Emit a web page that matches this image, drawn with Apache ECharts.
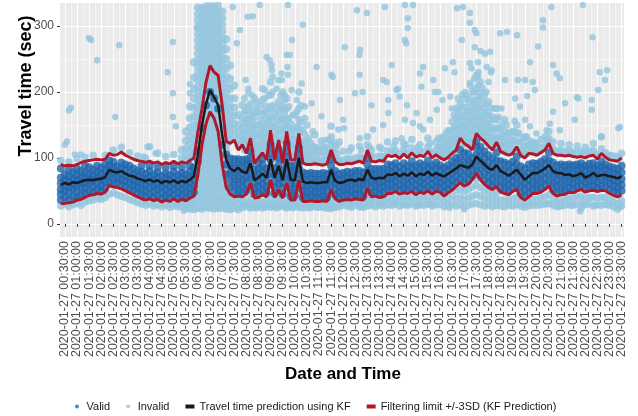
<!DOCTYPE html>
<html><head><meta charset="utf-8">
<script src="https://cdn.jsdelivr.net/npm/echarts@6/dist/echarts.min.js"></script>
<style>html,body{margin:0;padding:0;background:#fff}#c{width:638px;height:416px}</style>
</head><body><div id="c"></div>
<script>
const xTicks = ["00:30","01:00","01:30","02:00","02:30","03:00","03:30","04:00","04:30","05:00","05:30","06:00","06:30","07:00","07:30","08:00","08:30","09:00","09:30","10:00","10:30","11:00","11:30","12:00","12:30","13:00","13:30","14:00","14:30","15:00","15:30","16:00","16:30","17:00","17:30","18:00","18:30","19:00","19:30","20:00","20:30","21:00","21:30","22:00","22:30","23:00","23:30"];
const yTicks = [0, 100, 200, 300];

const lineTimes = ["00:20","00:30","00:40","00:50",
"01:00","01:10","01:20","01:30","01:40","01:50","02:00","02:10","02:20","02:30","02:40","02:50",
"03:00","03:10","03:20","03:30","03:40","03:50","04:00","04:10","04:20","04:30","04:40","04:50",
"05:00","05:10","05:20","05:30","05:40","05:50","06:00","06:10","06:20","06:30","06:40","06:50",
"07:00","07:10","07:20","07:30","07:40","07:50","08:00","08:10","08:20","08:30","08:40","08:50",
"09:00","09:10","09:20","09:30","09:40","09:50","10:00","10:10","10:20","10:30","10:40","10:50",
"11:00","11:10","11:20","11:30","11:40","11:50","12:00","12:10","12:20","12:30","12:40","12:50",
"13:00","13:10","13:20","13:30","13:40","13:50","14:00","14:10","14:20","14:30","14:40","14:50",
"15:00","15:10","15:20","15:30","15:40","15:50","16:00","16:10","16:20","16:30","16:40","16:50",
"17:00","17:10","17:20","17:30","17:40","17:50","18:00","18:10","18:20","18:30","18:40","18:50",
"19:00","19:10","19:20","19:30","19:40","19:50","20:00","20:10","20:20","20:30","20:40","20:50",
"21:00","21:10","21:20","21:30","21:40","21:50","22:00","22:10","22:20","22:30","22:40","22:50",
"23:00","23:10","23:20","23:30"];

const kfPrediction = [59,62,60,63,
62,64,66,67,66,68, 68,71,82,79,78,80, 76,73,72,69,67,65, 67,64,66,62,65,63, 66,62,65,63,67,72,
105,150,182,203,192,180, 135,97,84,80,85,79, 77,92,66,70,76,70, 98,70,88,66,98,67,
66,100,64,62,63,62, 62,63,63,82,65,62, 63,66,67,65,68,66, 82,70,68,70,69,75,
74,77,72,76,73,78, 72,76,74,79,73,77, 74,72,76,80,84,89, 87,85,90,102,96,90,
84,82,89,80,77,73, 77,82,75,67,72,77, 77,80,84,89,80,77, 77,74,75,72,74,77,
70,73,77,72,74,74, 72,71,69,72];

const upperLimit = [90,88,89,88,
90,93,95,96,97,98, 97,98,107,104,105,109, 104,101,98,96,95,93, 95,92,94,90,93,91, 95,91,94,92,96,100,
140,175,215,240,230,225, 180,125,122,127,112,120, 107,130,92,100,108,97, 142,97,127,92,140,97,
97,137,92,90,90,91, 90,89,91,112,94,90, 90,92,91,93,95,92, 112,95,94,96,95,104,
102,104,99,106,100,108, 101,104,102,110,100,105, 100,97,101,107,112,130, 122,118,112,137,130,125,
118,112,124,110,107,104, 107,117,104,100,107,106, 104,108,112,122,107,104, 104,103,104,102,101,102,
100,103,104,98,107,101, 97,96,95,100];

const lowerLimit = [31,31,32,33,
36,37,40,43,44,46, 45,48,58,56,55,53, 50,47,44,41,38,36, 38,35,37,33,36,34, 38,34,37,35,39,42,
75,120,152,170,160,140, 90,55,45,41,42,41, 45,62,39,40,44,41, 67,40,52,39,62,36,
36,67,34,34,35,34, 34,35,34,52,38,34, 36,37,36,38,37,36, 54,41,42,40,41,46,
46,49,45,47,46,49, 44,48,46,50,45,49, 48,42,47,51,57,62, 57,60,67,77,67,60,
55,52,57,48,46,44, 49,52,40,36,41,46, 46,48,52,57,46,42, 44,45,48,47,50,52,
48,50,51,49,51,50, 46,43,41,44];

const validObs = [
["00:20",36,45,52,61,70,84],["00:30",40,50,58,66,75],["00:40",37,48,56,64,72,82],["00:50",42,53,60,68,78],
["01:00",40,49,58,66,74,84],["01:10",44,55,63,71,80],["01:20",46,54,62,70,78,88],["01:30",50,60,68,76,86],["01:40",48,57,66,73,82],["01:50",52,61,70,79,88],
["02:00",50,58,67,76,85],["02:10",54,63,72,80,90],["02:20",62,71,80,88,96],["02:30",60,70,78,86,94],["02:40",62,70,79,87],["02:50",58,67,76,84,93],
["03:00",56,65,73,82,90],["03:10",52,62,70,78,88],["03:20",50,58,66,75,84],["03:30",46,55,64,72,80],["03:40",44,53,62,70,79,88],["03:50",42,51,60,68,76],
["04:00",45,54,63,71,80,88],["04:10",40,49,58,66,75],["04:20",43,52,60,69,78,86],["04:30",38,47,56,64,73],["04:40",42,51,60,68,76,85],["04:50",40,48,57,66,74],
["05:00",44,53,61,70,79,87],["05:10",39,48,57,65,74],["05:20",42,51,60,69,77,86],["05:30",40,49,58,66,75],["05:40",45,54,62,71,80,88],["05:50",48,57,66,75,85],
["06:00",95,110],["06:10",145],["06:20",180],["06:30",200],["06:40",190],["06:50",175],
["07:00",120],["07:10",75,90,105],["07:20",55,66,77,88,99],["07:30",48,58,68,78,88,98],["07:40",48,58,68,78,88,98],["07:50",47,57,67,77,87,97],
["08:00",51,61,70,80,90,98],["08:10",70,80,90,100,110],["08:20",45,54,63,72,82],["08:30",46,56,65,74,83,92],["08:40",50,60,70,80,90,99],["08:50",47,56,65,74,84],
["09:00",75,86,97,108,120],["09:10",46,56,65,74,84],["09:20",60,70,80,90,100,112],["09:30",45,54,63,72,82],["09:40",70,80,90,100,110,122],["09:50",42,52,61,70,80,88],
["10:00",43,52,62,71,80,88],["10:10",75,85,95,105,115],["10:20",40,50,59,68,78],["10:30",40,49,58,67,76],["10:40",41,50,59,68,77],["10:50",40,49,58,67,76],
["11:00",40,49,58,67,76],["11:10",41,50,59,68,77],["11:20",40,49,58,67,76],["11:30",58,68,78,88,98],["11:40",44,53,62,71,80],["11:50",40,49,58,67,76],
["12:00",42,51,60,68,77],["12:10",43,52,61,70,79],["12:20",42,51,60,69,78],["12:30",44,53,62,71,80],["12:40",43,52,61,70,80],["12:50",42,51,60,69,78],
["13:00",60,70,80,90,100],["13:10",47,56,65,74,83],["13:20",48,57,66,75,83],["13:30",46,55,64,73,83],["13:40",47,56,65,74,83],["13:50",52,61,70,80,90],
["14:00",52,61,70,79,89],["14:10",55,64,73,82,92],["14:20",51,60,69,78,87],["14:30",53,62,72,82,92],["14:40",52,61,70,79,88],["14:50",55,65,75,85,95],
["15:00",50,59,68,78,88],["15:10",54,63,72,82,92],["15:20",52,61,70,80,89],["15:30",56,66,76,86,96],["15:40",51,60,69,78,88],["15:50",55,64,74,84,93],
["16:00",54,63,72,81,89],["16:10",48,57,66,75,85],["16:20",53,62,71,80,89],["16:30",57,66,76,86,95],["16:40",63,72,82,92,100],["16:50",68,79,90,101,112],
["17:00",63,74,85,96,108],["17:10",66,76,86,96,106],["17:20",73,82,91,100],["17:30",83,94,105,116,125],["17:40",73,84,95,106,117],["17:50",66,77,88,99,110],
["18:00",61,71,82,93,104],["18:10",58,68,78,88,99],["18:20",63,74,85,96,108],["18:30",54,64,74,84,95],["18:40",52,62,72,82,93],["18:50",50,60,70,80,90],
["19:00",55,65,75,85,94],["19:10",58,69,80,91,102],["19:20",46,56,66,76,87],["19:30",42,52,62,72,84],["19:40",47,57,67,78,90],["19:50",52,62,72,82,92],
["20:00",52,62,72,82,91],["20:10",54,64,74,84,94],["20:20",58,68,78,88,98],["20:30",63,74,85,96,108],["20:40",52,62,72,82,93],["20:50",48,58,68,78,89],
["21:00",50,60,70,80,90],["21:10",51,61,71,80,89],["21:20",54,63,72,81,90],["21:30",53,62,71,80,89],["21:40",56,65,74,83,90],["21:50",58,67,76,85,92],
["22:00",54,63,72,81,88],["22:10",56,65,74,83,91],["22:20",57,66,75,84,92],["22:30",55,64,73,82,88],["22:40",57,67,77,87,95],["22:50",56,65,74,83,90],
["23:00",52,61,70,79,87],["23:10",49,58,67,76,85],["23:20",47,56,65,74,83],["23:30",50,59,68,78,88]
];

const invalidPeak = [
["05:20",26,33,100,112],["05:30",24,31,102,114,126,140],["05:40",23,30,37,100,110,121,133,146,160,178],
["05:50",22,30,37,106,116,127,138,150,163,176,190,205,222,245],
["06:00",24,33,42,51,60,69,78,88,98,108,118,128,138,148,158,168,178,188,198,208,218,228,238,248,258,268,278,288,298,308,318,328],
["06:10",23,32,41,50,59,68,77,87,97,107,117,127,137,147,157,167,177,187,197,207,217,227,237,247,257,267,277,287,297,307,317,327],
["06:20",25,34,43,52,61,70,80,90,100,110,120,130,140,150,160,170,180,190,200,210,220,230,240,250,260,270,280,290,300,310,320,330],
["06:30",24,33,42,51,60,70,80,90,100,110,120,130,140,150,160,170,180,190,200,210,220,230,240,250,260,270,280,290,300,310,320,330],
["06:40",23,32,41,50,60,70,80,90,100,110,120,130,140,150,160,170,180,190,200,210,220,230,240,250,260,270,280,290,300,310,320,330],
["06:50",24,33,42,52,62,72,82,92,102,112,122,132,142,152,162,172,182,192,202,212,222,232,242,252,262,272,282,292,302,312,322,331],
["07:00",24,33,42,52,62,72,82,92,102,112,122,132,142,152,162,172,182,192,202,212,222,232,242,252,262,272,282,292,302,312,322],
["07:10",23,32,41,50,60,70,80,90,100,110,120,130,140,150,160,170,180,190,200,212,224,236,250,265,280],
["07:20",22,31,40,128,138,148,158,168,178,190,205,220,240],["07:30",24,33,132,142,152,164,176,190,210],
["07:40",22,30,38,118,128,138,150,165],["07:50",25,33,124,134,146,160,180]
];

const invalidFringe = [
["00:20",27,96],["00:30",30],["00:40",26,94],["00:50",29],["01:00",31,99],["01:10",28],["01:20",33,101],["01:30",35],["01:40",36,104],["01:50",38],
["02:00",37],["02:10",40,104],["02:20",45],["02:30",47,112],["02:40",44],["02:50",42,116],["03:00",40],["03:10",37,108],["03:20",35],["03:30",32,103],
["03:40",30],["03:50",28,100],["04:00",30,117],["04:10",27],["04:20",29,107],["04:30",26],["04:40",28,102],["04:50",25,30],["05:00",27,32,105],["05:10",26,31],
["08:00",26,35,114,125,140,158,172],["08:10",24,33,44,54,138,150,165,182],["08:20",25,32,100,112,128,146,162,190],["08:30",27,34,108,120,136,150,170],
["08:40",24,33,120,132,148,166,188,205],["08:50",26,34,104,116,130,145,160,178],["09:00",25,36,46,58,150,162,176,195,215],["09:10",27,34,104,118,132,148,168],
["09:20",26,35,44,136,150,166,185],["09:30",28,34,100,114,128,142,160,178,200],["09:40",24,34,46,54,148,160,175,190],["09:50",26,32,104,118,134,152],
["10:00",27,33,104,120,140,165],["10:10",25,35,46,58,145,158,175,200],["10:20",24,30,98,112,126,142],["10:30",26,31,97,110,125,150],
["10:40",25,31,96,108,122],["10:50",27,31,97,112,135],["11:00",25,31,96,110],["11:10",26,32,96,118],["11:20",24,31,97,108],["11:30",27,36,46,120,132,148],
["11:40",25,33,100,114],["11:50",26,31,96,124],["12:00",28,33,97,110],["12:10",27,33,99],["12:20",25,32,98,115],["12:30",28,34,100],["12:40",26,33,102,118],["12:50",25,32,99],
["13:00",27,37,47,120,132],["13:10",28,36,102,112],["13:20",26,37,101],["13:30",28,35,103,116],["13:40",27,36,102],["13:50",29,38,111,124],
["14:00",28,38,109],["14:10",30,40,111,126],["14:20",27,37,106],["14:30",29,39,113,122],["14:40",28,38,107],["14:50",30,40,115,128],
["15:00",27,36,108],["15:10",29,39,111,120],["15:20",28,38,109],["15:30",30,41,117,130],["15:40",27,37,107],["15:50",29,40,112,124],
["16:00",29,40,107,118],["16:10",26,34,104,116,130],["16:20",28,38,108,120,136],["16:30",30,42,114,126,140,155],["16:40",27,38,50,119,130,145,160,175],
["16:50",29,40,52,137,150,165,182],["17:00",26,37,49,129,142,156,170,190],["17:10",28,39,52,125,138,152,168,185],["17:20",30,42,56,119,132,146,160,178,200],
["17:30",31,44,58,68,144,158,172,188,205,225],["17:40",29,42,55,137,150,164,180,198,215],["17:50",27,38,50,132,145,160,175,195],
["18:00",28,38,48,125,138,152,168,185],["18:10",26,36,45,119,132,146,162],["18:20",28,38,48,131,144,158,175],["18:30",27,36,117,130,144],
["18:40",26,36,114,126,140,158],["18:50",28,36,111,124,138],["19:00",27,38,114,126,140],["19:10",29,40,124,136,150],["19:20",27,33,111,124],
["19:30",25,30,107,118,132],["19:40",27,34,114,126],["19:50",28,37,113,124],["20:00",28,37,111,122],["20:10",29,39,115,128],["20:20",30,41,119,132],
["20:30",31,44,129,140],["20:40",28,37,114,124],["20:50",26,34,111],["21:00",27,35,111,122],["21:10",28,37,110],["21:20",29,39,111,120],["21:30",28,38,109],
["21:40",30,41,108,118],["21:50",24,31,42,109],["22:00",29,39,107,116],["22:10",30,40,110],["22:20",27,40,111,122],["22:30",29,39,105],["22:40",28,40,114,132],
["22:50",30,40,108],["23:00",28,37,104],["23:10",26,34,103],["23:20",22,31,102],["23:30",27,35,107]
];

const invalidCloud = [
["07:55",28,112,128,140,152,170,190],["08:05",28,110,122,134,148,160,178,198],["08:15",26,106,118,130,142,156,172],["08:25",24,98,110,122,136,150,168,185],
["08:35",27,104,116,128,142,158,180],["08:45",25,112,124,138,152,170,190],["08:55",28,100,112,124,138,155,172,195],["09:05",26,120,132,146,160,180,200],
["09:15",24,100,112,126,140,158,176],["09:25",27,114,128,142,158,175,195],["09:35",25,98,110,124,138,152,170,188],["09:45",28,116,130,144,160,178],
["09:55",24,100,114,128,144,165],["10:05",27,102,116,130,148,170],["10:15",25,108,122,138,155,180],["10:25",26,96,106,120,136,160],
["10:35",24,96,104,116,130],["10:45",26,96,106,118,140],["10:55",25,96,104,116],["11:05",26,96,108,126],["11:15",24,96,104,116],
["11:25",26,98,112,128],["11:35",25,100,110,124],["11:45",27,96,106,120],["12:15",27,98,110],["12:45",26,100,112],["13:05",29,104,116],["13:35",28,102,114],
["14:05",30,106,118],["14:35",29,108,120],["15:05",28,104,116],["15:35",30,110,122],
["15:55",104,116,130],["16:05",104,114,126],["16:15",102,112,124,138],["16:25",104,116,128,142],["16:35",110,122,134,148,165],
["16:45",116,128,142,156,172,190],["16:55",122,134,148,162,178,196],["17:05",120,132,146,160,176,195],["17:15",116,128,142,156,172,190,210],
["17:25",126,138,152,166,182,200,220],["17:35",136,148,162,176,192,210,230],["17:45",130,142,156,170,188,206],["17:55",124,136,150,165,182,200],
["18:05",118,130,144,158,176],["18:15",116,128,142,158,175],["18:25",120,132,146,162],["18:35",110,122,136,152],["18:45",108,120,134,150],
["18:55",108,120,134],["19:05",114,126,140,156],["19:15",112,124,138],["19:25",104,116,130],["19:35",106,118,132],["19:45",110,122],["19:55",108,120],
["20:25",30,116,128],["20:55",27,108],["21:25",28,108],["21:55",29,106],["22:25",28,106],["22:55",29,104],["23:25",26,100]
];

const invalidOutliers = [
["00:30",120],["00:35",125],["00:40",172],["00:45",176],["00:55",105],["01:10",105],["01:30",282],["01:35",279],["01:50",248],["02:35",162],["02:45",271],
["03:45",102],["03:55",117],["04:15",107],["04:45",230],["04:58",276],["04:58",198],["04:58",162],["05:05",148],["05:40",212],["05:40",198],["05:57",297],
["07:26",329],["07:36",274],["07:44",294],["08:03",314],["08:16",315],["08:33",332],["07:58",218],["08:05",205],["08:15",195],["08:25",176],["08:46",203],
["08:50",253],["08:58",248],["09:02",241],["09:03",233],["09:05",223],["09:15",205],["09:19",218],["09:27",228],["09:28",218],["09:35",195],["09:40",256],
["09:42",238],["09:43",226],["09:48",256],["09:52",203],["09:53",279],["09:43",332],["10:05",188],["10:17",213],["10:20",302],["10:25",178],["10:42",183],
["10:54",238],["11:06",163],["11:15",127],["11:31",226],["11:34",223],["11:48",143],["11:52",188],["12:00",158],["12:02",145],["12:04",268],["12:29",198],
["12:34",324],["12:40",256],["12:41",226],["12:42",264],["12:41",130],["12:48",200],["12:59",320],["13:10",180],["13:14",143],["13:39",218],["13:39",150],
["13:43",329],["13:48",215],["13:52",188],["13:52",168],["14:00",241],["14:12",203],["14:16",205],["14:20",193],["14:25",130],["14:33",332],["14:33",279],
["14:33",158],["14:36",274],["14:38",180],["14:40",312],["14:40",297],["14:53",332],["14:53",153],["15:02",168],["15:10",228],["15:10",148],["15:14",208],
["15:18",143],["15:18",238],["15:35",158],["15:43",218],["15:47",200],["15:52",173],["15:56",200],["16:04",132],["16:06",188],["16:12",236],["16:20",142],
["16:25",193],["16:29",175],["16:32",245],["16:36",230],["16:42",327],["16:53",147],["16:54",279],["16:57",329],["17:02",200],["17:14",320],["17:14",305],
["17:14",244],["17:14",214],["17:18",236],["17:26",294],["17:26",268],["17:30",289],["17:34",245],["17:35",223],["17:40",262],["17:51",258],["17:56",238],
["18:04",261],["18:06",230],["18:08",233],["18:00",215],["18:16",158],["18:29",289],["18:32",175],["18:41",218],["18:46",291],["19:06",190],["19:11",286],
["19:13",218],["19:18",178],["19:31",218],["19:31",158],["19:36",194],["19:43",148],["19:43",245],["19:50",215],["19:55",203],["19:59",137],["20:03",269],
["20:15",309],["20:15",298],["20:24",142],["20:32",152],["20:36",329],["20:40",241],["20:40",170],["20:49",228],["20:57",221],["20:57",142],["21:10",183],
["21:34",158],["21:39",192],["21:43",190],["21:47",19],["21:54",332],["22:16",188],["22:16",173],["22:18",283],["22:32",203],["22:36",230],["22:40",132],
["22:49",218],["22:54",233],["23:22",145],["23:26",147],["16:24",24],["17:00",22],["11:30",22],["05:25",20]
];

const toH = s => { const p = s.split(':'); return +p[0] + (+p[1]) / 60; };
const rowsToPoints = rows => { const out = []; rows.forEach(r => { const t = toH(r[0]); for (let i = 1; i < r.length; i++) out.push([t, r[i]]); }); return out; };
const lineData = arr => lineTimes.map((t, i) => [toH(t), arr[i]]);

const majorX = xTicks.map(toH);
const halfHourX = majorX.filter((v, i) => i % 2 === 0);
const fullHourX = majorX.filter((v, i) => i % 2 === 1);
const minorX = []; for (let i = 0; i < majorX.length - 1; i++) minorX.push((majorX[i] + majorX[i + 1]) / 2);
const minorY = []; for (let i = 0; i < yTicks.length - 1; i++) minorY.push((yTicks[i] + yTicks[i + 1]) / 2);

const FONT = "'Liberation Sans', Arial, sans-serif";
const C_VALID = '#2166AC', C_INVALID = '#92C5DE', C_KF = '#1A1A1A', C_LIM = '#B2182B';
const KF_NAME = 'Travel time prediction using KF', LIM_NAME = 'Filtering limit +/-3SD (KF Prediction)';
const xMin = 0.3, xMax = 23.6, yMin = -20, yMax = 335;

const fmtTime = v => { const H = Math.floor(v + 1e-6), M = Math.round((v - H) * 60); return '2020-01-27 ' + String(H).padStart(2, '0') + ':' + String(M).padStart(2, '0') + ':00'; };
const labelAxis = vals => ({
  type: 'value', min: xMin, max: xMax, position: 'bottom',
  axisLine: { show: false }, axisTick: { show: false }, splitLine: { show: false },
  axisLabel: { customValues: vals, rotate: 90, margin: 4, fontSize: 12.5, color: '#4D4D4D', fontFamily: FONT,
    showMinLabel: true, showMaxLabel: true, hideOverlap: false, formatter: fmtTime }
});

const chart = echarts.init(document.getElementById('c'), null, { renderer: 'canvas' });
chart.setOption({
  animation: false,
  backgroundColor: '#ffffff',
  grid: { left: 60, right: 14, top: 3, bottom: 179, show: true, backgroundColor: '#EBEBEB', borderWidth: 0 },
  xAxis: [{
    type: 'value', min: xMin, max: xMax, position: 'bottom',
    axisLine: { show: false },
    axisTick: { show: true, customValues: majorX, length: 3, lineStyle: { color: '#333333', width: 1 } },
    axisLabel: { show: false },
    splitLine: { show: true, lineStyle: { color: '#FFFFFF', width: 1 } }
  }, {
    type: 'value', min: xMin, max: xMax, position: 'bottom',
    axisLine: { show: false }, axisLabel: { show: false },
    axisTick: { show: false, customValues: minorX },
    splitLine: { show: true, lineStyle: { color: '#FFFFFF', width: 0.5 } }
  }, labelAxis(halfHourX), labelAxis(fullHourX)],
  yAxis: [{
    type: 'value', min: yMin, max: yMax,
    axisLine: { show: false },
    axisTick: { show: true, customValues: yTicks, length: 3, lineStyle: { color: '#333333', width: 1 } },
    axisLabel: { customValues: yTicks, margin: 6, fontSize: 12, color: '#4D4D4D', fontFamily: FONT, showMinLabel: true, showMaxLabel: true },
    splitLine: { show: true, lineStyle: { color: '#FFFFFF', width: 1 } }
  }, {
    type: 'value', min: yMin, max: yMax, position: 'left',
    axisLine: { show: false }, axisLabel: { show: false },
    axisTick: { show: false, customValues: minorY },
    splitLine: { show: true, lineStyle: { color: '#FFFFFF', width: 0.5 } }
  }],
  legend: {
    left: 70, top: 396, itemWidth: 9, itemHeight: 4, itemGap: 16,
    textStyle: { fontSize: 11, color: '#1A1A1A', fontFamily: FONT },
    data: [
      { name: 'Valid', icon: 'circle' },
      { name: 'Invalid', icon: 'circle' },
      { name: KF_NAME, icon: 'rect' },
      { name: LIM_NAME, icon: 'rect' }
    ]
  },
  graphic: [
    { type: 'text', x: 26, y: 86, rotation: Math.PI / 2,
      style: { text: 'Travel time (sec)', font: "bold 18px 'Liberation Sans', Arial, sans-serif", fill: '#000', align: 'center', verticalAlign: 'middle' } },
    { type: 'text', x: 343, y: 374,
      style: { text: 'Date and Time', font: "bold 17px 'Liberation Sans', Arial, sans-serif", fill: '#000', align: 'center', verticalAlign: 'middle' } }
  ],
  series: [
    { name: 'Invalid', type: 'scatter', data: rowsToPoints(invalidPeak), symbolSize: 8, itemStyle: { color: C_INVALID }, silent: true },
    { name: 'Invalid', type: 'scatter', data: rowsToPoints(invalidCloud), symbolSize: 7, itemStyle: { color: C_INVALID }, silent: true },
    { name: 'Invalid', type: 'scatter', data: rowsToPoints(invalidFringe), symbolSize: 7.5, itemStyle: { color: C_INVALID }, silent: true },
    { name: 'Invalid', type: 'scatter', data: invalidOutliers.map(p => [toH(p[0]), p[1]]), symbolSize: 6.5, itemStyle: { color: C_INVALID }, silent: true },
    { name: 'Valid', type: 'scatter', data: rowsToPoints(validObs), symbolSize: 8, itemStyle: { color: C_VALID }, silent: true },
    { name: KF_NAME, type: 'line', data: lineData(kfPrediction), showSymbol: false, lineStyle: { color: C_KF, width: 2.5 }, itemStyle: { color: C_KF }, silent: true },
    { name: LIM_NAME, type: 'line', data: lineData(upperLimit), showSymbol: false, lineStyle: { color: C_LIM, width: 3 }, itemStyle: { color: C_LIM }, silent: true },
    { name: LIM_NAME, type: 'line', data: lineData(lowerLimit), showSymbol: false, lineStyle: { color: C_LIM, width: 3 }, itemStyle: { color: C_LIM }, silent: true }
  ]
});
</script>
</body></html>
